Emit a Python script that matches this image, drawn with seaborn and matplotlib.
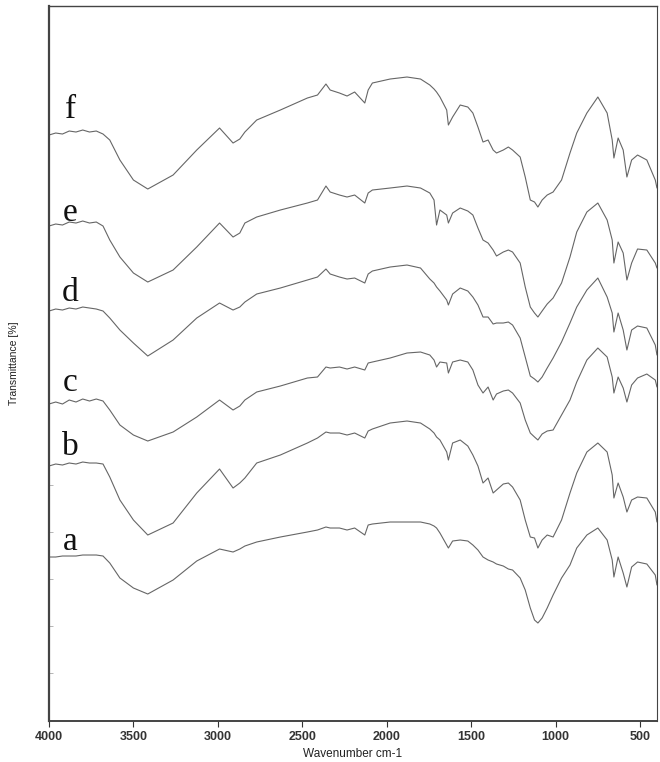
import numpy as np
import pandas as pd
import matplotlib
matplotlib.use('agg')
import matplotlib.pyplot as plt
import seaborn as sns

# wavenumber grid (cm-1) shared by all six spectra
wavenumber = [4000, 3960, 3920, 3880, 3840, 3800, 3760, 3720, 3680, 3640,
              3580, 3500, 3415, 3265, 3125, 2990, 2910, 2870, 2840, 2770,
              2630, 2470, 2410, 2360, 2335, 2280, 2235, 2190, 2130, 2110,
              2085, 1980, 1880, 1800, 1745, 1720, 1705, 1685, 1645, 1635,
              1610, 1565, 1520, 1490, 1460, 1430, 1400, 1370, 1350, 1310,
              1280, 1255, 1210, 1180, 1150, 1125, 1105, 1080, 1050, 1015,
              965, 915, 875, 815, 750, 695, 665, 655, 630, 600,
              578, 550, 515, 460, 410, 400]

# transmittance, arbitrary units (stacked)
trans_f = [586, 588, 587, 590, 589, 591, 589, 590, 587, 581,
           561, 541, 532, 546, 571, 593, 578, 582, 589, 601,
           611, 623, 626, 637, 631, 628, 625, 629, 618, 631,
           638, 642, 644, 642, 636, 632, 629, 624, 611, 596,
           604, 616, 614, 608, 594, 579, 581, 571, 568, 571,
           574, 571, 564, 544, 521, 519, 514, 521, 526, 529,
           541, 568, 588, 608, 624, 608, 581, 563, 583, 571,
           544, 561, 566, 561, 541, 533]
trans_e = [495, 497, 496, 499, 498, 500, 498, 499, 495, 481,
           464, 448, 439, 451, 474, 498, 484, 488, 498, 504,
           511, 518, 521, 535, 529, 526, 524, 526, 518, 528,
           531, 533, 535, 533, 528, 521, 496, 511, 506, 498,
           508, 513, 510, 506, 493, 481, 478, 471, 465, 469,
           471, 469, 458, 434, 414, 408, 404, 410, 417, 423,
           438, 464, 489, 509, 518, 501, 481, 458, 479, 468,
           441, 458, 472, 471, 458, 453]
trans_d = [410, 412, 411, 413, 412, 414, 413, 412, 410, 403,
           391, 378, 365, 381, 403, 418, 411, 414, 419, 427,
           433, 441, 444, 452, 447, 444, 442, 443, 438, 447,
           450, 454, 456, 453, 442, 438, 434, 430, 421, 416,
           427, 433, 430, 424, 416, 404, 404, 397, 398, 398,
           399, 396, 383, 364, 345, 342, 339, 344, 353, 363,
           379, 398, 414, 431, 443, 424, 408, 389, 408, 391,
           371, 391, 395, 393, 376, 366]
trans_c = [317, 319, 317, 321, 319, 322, 320, 322, 320, 311,
           296, 286, 280, 289, 304, 321, 311, 315, 321, 329,
           335, 343, 344, 354, 353, 354, 352, 354, 351, 358,
           359, 363, 368, 369, 366, 361, 354, 359, 358, 348,
           359, 361, 359, 351, 336, 328, 334, 321, 327, 330,
           331, 328, 318, 301, 288, 284, 281, 287, 290, 291,
           306, 321, 339, 361, 373, 364, 344, 328, 344, 333,
           319, 336, 343, 347, 341, 334]
trans_b = [255, 257, 256, 258, 257, 259, 258, 258, 257, 244,
           221, 201, 186, 198, 228, 252, 233, 238, 243, 258,
           266, 278, 283, 289, 288, 288, 286, 288, 283, 290,
           292, 298, 300, 298, 292, 288, 284, 281, 269, 261,
           278, 281, 275, 266, 255, 238, 243, 228, 231, 237,
           238, 234, 221, 201, 184, 183, 173, 181, 186, 184,
           201, 228, 248, 269, 278, 269, 246, 223, 238, 224,
           209, 221, 224, 223, 209, 199]
trans_a = [164, 164, 165, 165, 165, 166, 166, 166, 165, 158,
           143, 133, 127, 141, 160, 172, 169, 172, 175, 179,
           184, 189, 191, 194, 193, 193, 191, 193, 186, 196,
           197, 199, 199, 199, 197, 195, 193, 188, 176, 173,
           180, 181, 180, 176, 171, 164, 161, 159, 157, 155,
           152, 151, 143, 131, 113, 101, 98, 103, 113, 126,
           143, 156, 173, 186, 193, 181, 161, 144, 164, 148,
           134, 154, 159, 157, 146, 136]

samples = ["a", "b", "c", "d", "e", "f"]
series = [trans_a, trans_b, trans_c, trans_d, trans_e, trans_f]

frames = []
for name, vals in zip(samples, series):
    frames.append(pd.DataFrame({"wavenumber": wavenumber,
                                "transmittance": vals,
                                "sample": name}))
df = pd.concat(frames, ignore_index=True)

sns.set_style("ticks")
plt.rcParams["font.family"] = ["Liberation Sans", "DejaVu Sans"]

fig = plt.figure(figsize=(6.6, 7.62), dpi=100)
ax = fig.add_axes([0.0742, 0.0538, 0.9212, 0.9383])

sns.lineplot(data=df, x="wavenumber", y="transmittance", units="sample",
             estimator=None, color="#666666", lw=0.8, ax=ax, sort=False)

ax.set_xlim(4000, 400)
ax.set_ylim(0, 715)
ax.set_xticks([4000, 3500, 3000, 2500, 2000, 1500, 1000, 500])
ax.set_yticks(np.arange(48, 240, 47))
ax.set_yticklabels([])
ax.tick_params(axis="x", labelsize=9, colors="#333333", length=4, width=0.8)
ax.tick_params(axis="y", direction="in", length=3, width=0.6, colors="#aaaaaa")
for lab in ax.get_xticklabels():
    lab.set_fontweight("bold")
    lab.set_color("#333333")

for side in ["left", "right", "top", "bottom"]:
    ax.spines[side].set_visible(True)
    ax.spines[side].set_color("#444444")
ax.spines["left"].set_linewidth(1.6)
ax.spines["bottom"].set_linewidth(1.4)
ax.spines["top"].set_linewidth(1.0)
ax.spines["right"].set_linewidth(0.8)

ax.set_xlabel("Wavenumber cm-1", fontsize=8.5, color="#222222", labelpad=3)
ax.set_ylabel("Transmittance [%]", fontsize=7.5, color="#222222", labelpad=18)

# curve letters, placed beside each spectrum's flat start
label_height = [179, 274, 338, 428, 508, 611]
for name, h in zip(samples, label_height):
    ax.text(3875, h, name, fontsize=24, family=["Liberation Serif", "DejaVu Serif"],
            ha="center", va="center", color="#111111")

fig.savefig("out.png", dpi=100)
